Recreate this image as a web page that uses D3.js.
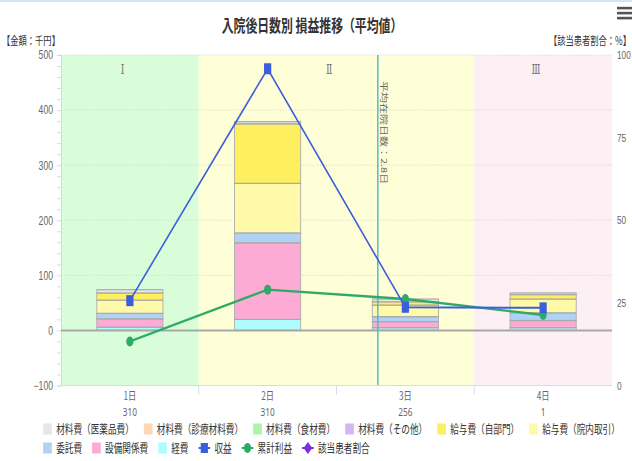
<!DOCTYPE html>
<html>
<head>
<meta charset="utf-8">
<script src="https://cdn.jsdelivr.net/npm/d3@7"></script>
<style>
  body { margin: 0; background: #fff; }
  svg { display: block; font-family: "Noto Sans CJK JP", "Noto Sans", sans-serif; }
</style>
</head>
<body>
<script>
// categories
const days = ['1日', '2日', '3日', '4日'];
const patients = [310, 310, 256, 1];

// cost components (千円)
const drugCost      = [6, 4, 5, 3];       // 材料費（医薬品費）
const medMaterial   = [0, 0, 0, 0];       // 材料費（診療材料費）
const foodCost      = [0, 0, 0, 0];       // 材料費（食材費）
const otherMaterial = [0, 0, 0, 0];       // 材料費（その他）
const salaryOwn     = [13, 108, 6, 8];    // 給与費（自部門）
const salaryInner   = [24, 90, 21, 25];   // 給与費（院内取引）
const outsourcing   = [10, 18, 9, 14];    // 委託費
const equipment     = [15, 139, 11, 13];  // 設備関係費
const expenses      = [6, 20, 5, 5];      // 経費

const revenue    = [54, 475, 42, 41];     // 収益
const cumProfit  = [-20, 74, 57, 28];     // 累計利益
const avgStay = 2.8;                      // 平均在院日数

const leftTicks  = [-100, 0, 100, 200, 300, 400, 500];
const rightTicks = [0, 25, 50, 75, 100];

// the picture is squeezed horizontally
const sx = 0.72;
const W = 632 / sx, H = 461;

const costSeries = [
  { name: '材料費（医薬品費）', color: '#e6e6e6', values: drugCost },
  { name: '材料費（診療材料費）', color: '#fdd6b5', values: medMaterial },
  { name: '材料費（食材費）', color: '#aaf5aa', values: foodCost },
  { name: '材料費（その他）', color: '#d7b5f5', values: otherMaterial },
  { name: '給与費（自部門）', color: '#fdef5e', values: salaryOwn },
  { name: '給与費（院内取引）', color: '#fffaaa', values: salaryInner },
  { name: '委託費', color: '#b0d2f5', values: outsourcing },
  { name: '設備関係費', color: '#fdaad5', values: equipment },
  { name: '経費', color: '#aefcfc', values: expenses }
];

const regions = [
  { label: 'Ⅰ', days: ['1日'], color: '#d9fdd9' },
  { label: 'Ⅱ', days: ['2日', '3日'], color: '#fefed7' },
  { label: 'Ⅲ', days: ['4日'], color: '#fdf0f4' }
];

const svg = d3.select('body').append('svg')
  .attr('width', 632).attr('height', H)
  .attr('viewBox', `0 0 ${W} ${H}`)
  .attr('preserveAspectRatio', 'none');

const plot = { left: 61 / sx, right: 612 / sx, top: 55, bottom: 385.5 };

const x = d3.scaleBand().domain(days).range([plot.left, plot.right]);
const bw = x.bandwidth();
const xi = d3.scaleLinear().domain([-0.5, days.length - 0.5]).range([plot.left, plot.right]);
const y = d3.scaleLinear().domain([-100, 500]).range([plot.bottom, plot.top]);
const yR = d3.scaleLinear().domain([0, 100]).range([plot.bottom, plot.top]);
const cx = d => x(d) + bw / 2;

// top border
svg.append('rect').attr('x', 0).attr('y', 0).attr('width', W).attr('height', 2).attr('fill', '#d3e4f5');

// menu icon
[8, 13, 18].forEach(v => {
  svg.append('rect').attr('x', 617 / sx).attr('y', v - 1.2).attr('width', 15 / sx).attr('height', 2.6).attr('fill', '#555');
});

// title
svg.append('text')
  .attr('x', W / 2 - 4 / sx).attr('y', 32)
  .attr('text-anchor', 'middle')
  .attr('font-size', 16.5).attr('font-weight', 'bold').attr('fill', '#333')
  .text('入院後日数別 損益推移（平均値）');

svg.append('text').attr('x', 2 / sx).attr('y', 45)
  .attr('font-size', 11.5).attr('fill', '#333').text('【金額：千円】');
svg.append('text').attr('x', 631 / sx).attr('y', 45).attr('text-anchor', 'end')
  .attr('font-size', 11.5).attr('fill', '#333').text('【該当患者割合：%】');

// plot bands
regions.forEach(r => {
  const x0 = x(r.days[0]), x1 = x(r.days[r.days.length - 1]) + bw;
  svg.append('rect')
    .attr('x', x0).attr('y', plot.top)
    .attr('width', x1 - x0).attr('height', plot.bottom - plot.top)
    .attr('fill', r.color);
  svg.append('text')
    .attr('x', (x0 + x1) / 2 - 10).attr('y', 74)
    .attr('text-anchor', 'middle').attr('font-size', 13)
    .attr('font-family', '"DejaVu Serif", serif').attr('fill', '#777')
    .text(r.label);
});

// grid lines
svg.append('g').selectAll('line')
  .data(leftTicks.filter(t => t > 0))
  .enter().append('line')
  .attr('x1', plot.left).attr('x2', plot.right)
  .attr('y1', d => y(d)).attr('y2', d => y(d))
  .attr('stroke', '#cfcfcf').attr('stroke-dasharray', '1.5,2.5');

// left axis: minor ticks + labels
const leftAxis = svg.append('g').attr('transform', `translate(${plot.left},0)`)
  .call(d3.axisLeft(y).tickValues(d3.range(-100, 501, 20)).tickSize(4 / sx).tickFormat(''));
leftAxis.select('.domain').attr('stroke', '#ccd6eb');
leftAxis.selectAll('.tick line').attr('stroke', '#ccd6eb');

const leftLabels = svg.append('g').attr('transform', `translate(${plot.left},0)`)
  .call(d3.axisLeft(y).tickValues(leftTicks).tickSize(0).tickPadding(8 / sx));
leftLabels.select('.domain').remove();
leftLabels.selectAll('text').attr('font-size', 12).attr('fill', '#666').attr('font-family', 'inherit');

// right axis
const rightAxis = svg.append('g').attr('transform', `translate(${plot.right},0)`)
  .call(d3.axisRight(yR).tickValues(rightTicks).tickSize(0).tickPadding(5 / sx));
rightAxis.select('.domain').remove();
rightAxis.selectAll('text').attr('font-size', 11.5).attr('fill', '#666').attr('font-family', 'inherit');

// stacked bars
const rows = days.map((d, i) => {
  const row = { day: d };
  costSeries.forEach(s => { row[s.name] = s.values[i]; });
  return row;
});
const keys = costSeries.map(s => s.name).reverse();
const stacked = d3.stack().keys(keys)(rows);
const colorOf = Object.fromEntries(costSeries.map(s => [s.name, s.color]));
const barW = bw * 0.48;

svg.append('g').selectAll('g')
  .data(stacked)
  .enter().append('g')
  .attr('fill', s => colorOf[s.key])
  .selectAll('rect')
  .data(s => s.filter(p => p[1] - p[0] > 0))
  .enter().append('rect')
  .attr('x', p => cx(p.data.day) - barW / 2)
  .attr('y', p => y(p[1]))
  .attr('width', barW)
  .attr('height', p => y(p[0]) - y(p[1]))
  .attr('stroke', '#aaa').attr('stroke-width', 1.2);

// zero line
svg.append('line')
  .attr('x1', plot.left).attr('x2', plot.right)
  .attr('y1', y(0)).attr('y2', y(0))
  .attr('stroke', '#a8a8a8').attr('stroke-width', 2);

// average stay line
const avgX = xi(avgStay - 1);
svg.append('line')
  .attr('x1', avgX).attr('x2', avgX)
  .attr('y1', plot.top).attr('y2', plot.bottom)
  .attr('stroke', '#4fb8c4').attr('stroke-width', 2);
svg.append('text')
  .attr('transform', `translate(${avgX + 4},81) rotate(90)`)
  .attr('font-size', 11).attr('fill', '#666')
  .text('平均在院日数：' + avgStay + '日');

// lines
const line = d3.line().x((d, i) => cx(days[i])).y(d => y(d));

svg.append('path').datum(cumProfit)
  .attr('d', line).attr('fill', 'none')
  .attr('stroke', '#2eaa66').attr('stroke-width', 2.4);
svg.append('g').selectAll('ellipse')
  .data(cumProfit).enter().append('ellipse')
  .attr('cx', (d, i) => cx(days[i])).attr('cy', d => y(d))
  .attr('rx', 5).attr('ry', 5).attr('fill', '#2eaa66');

svg.append('path').datum(revenue)
  .attr('d', line).attr('fill', 'none')
  .attr('stroke', '#3b5fdc').attr('stroke-width', 2);
svg.append('g').selectAll('rect')
  .data(revenue).enter().append('rect')
  .attr('x', (d, i) => cx(days[i]) - 5).attr('y', d => y(d) - 5.5)
  .attr('width', 10).attr('height', 11).attr('fill', '#3b5fdc');

// bottom axis
svg.append('line')
  .attr('x1', plot.left).attr('x2', plot.right)
  .attr('y1', plot.bottom).attr('y2', plot.bottom)
  .attr('stroke', '#ccd6eb');
svg.append('g').selectAll('line')
  .data(days.slice(1)).enter().append('line')
  .attr('x1', d => x(d)).attr('x2', d => x(d))
  .attr('y1', plot.bottom).attr('y2', plot.bottom + 9)
  .attr('stroke', '#ccd6eb');

const xLab = svg.append('g').selectAll('g')
  .data(days).enter().append('g')
  .attr('transform', d => `translate(${cx(d)},0)`);
xLab.append('text').attr('y', 400).attr('text-anchor', 'middle')
  .attr('font-size', 11.5).attr('fill', '#666').text(d => d);
xLab.append('text').attr('y', 416.5).attr('text-anchor', 'middle')
  .attr('font-size', 11.5).attr('fill', '#666')
  .attr('font-family', '"Noto Sans", sans-serif').text((d, i) => patients[i]);

// legend
const legendItems = costSeries.map(s => ({ name: s.name, color: s.color, type: 'box' }))
  .concat([
    { name: '収益', color: '#3b5fdc', type: 'square' },
    { name: '累計利益', color: '#2eaa66', type: 'circle' },
    { name: '該当患者割合', color: '#7b2ee0', type: 'diamond' }
  ]);
const legendRows = [legendItems.slice(0, 6), legendItems.slice(6)];
const legendY = [429, 448];

legendRows.forEach((items, r) => {
  let lx = 60;
  items.forEach(it => {
    const g = svg.append('g').attr('transform', `translate(${lx},${legendY[r]})`);
    let symW;
    if (it.type === 'box') {
      symW = 12;
      g.append('rect').attr('x', 0).attr('y', -5.5).attr('width', 12).attr('height', 11).attr('fill', it.color);
    } else {
      symW = 16;
      g.append('line').attr('x1', 0).attr('x2', 16).attr('y1', 0).attr('y2', 0)
        .attr('stroke', it.color).attr('stroke-width', 2);
      if (it.type === 'square') {
        g.append('rect').attr('x', 3).attr('y', -5).attr('width', 10).attr('height', 10).attr('fill', it.color);
      } else if (it.type === 'circle') {
        g.append('circle').attr('cx', 8).attr('cy', 0).attr('r', 5).attr('fill', it.color);
      } else {
        g.append('path').attr('d', 'M8,-6L14,0L8,6L2,0Z').attr('fill', it.color);
      }
    }
    const t = g.append('text').attr('x', symW + 6).attr('y', 4.5)
      .attr('font-size', 12).attr('fill', '#333').text(it.name);
    lx += symW + 6 + t.node().getComputedTextLength() + 14;
  });
});
</script>
</body>
</html>
